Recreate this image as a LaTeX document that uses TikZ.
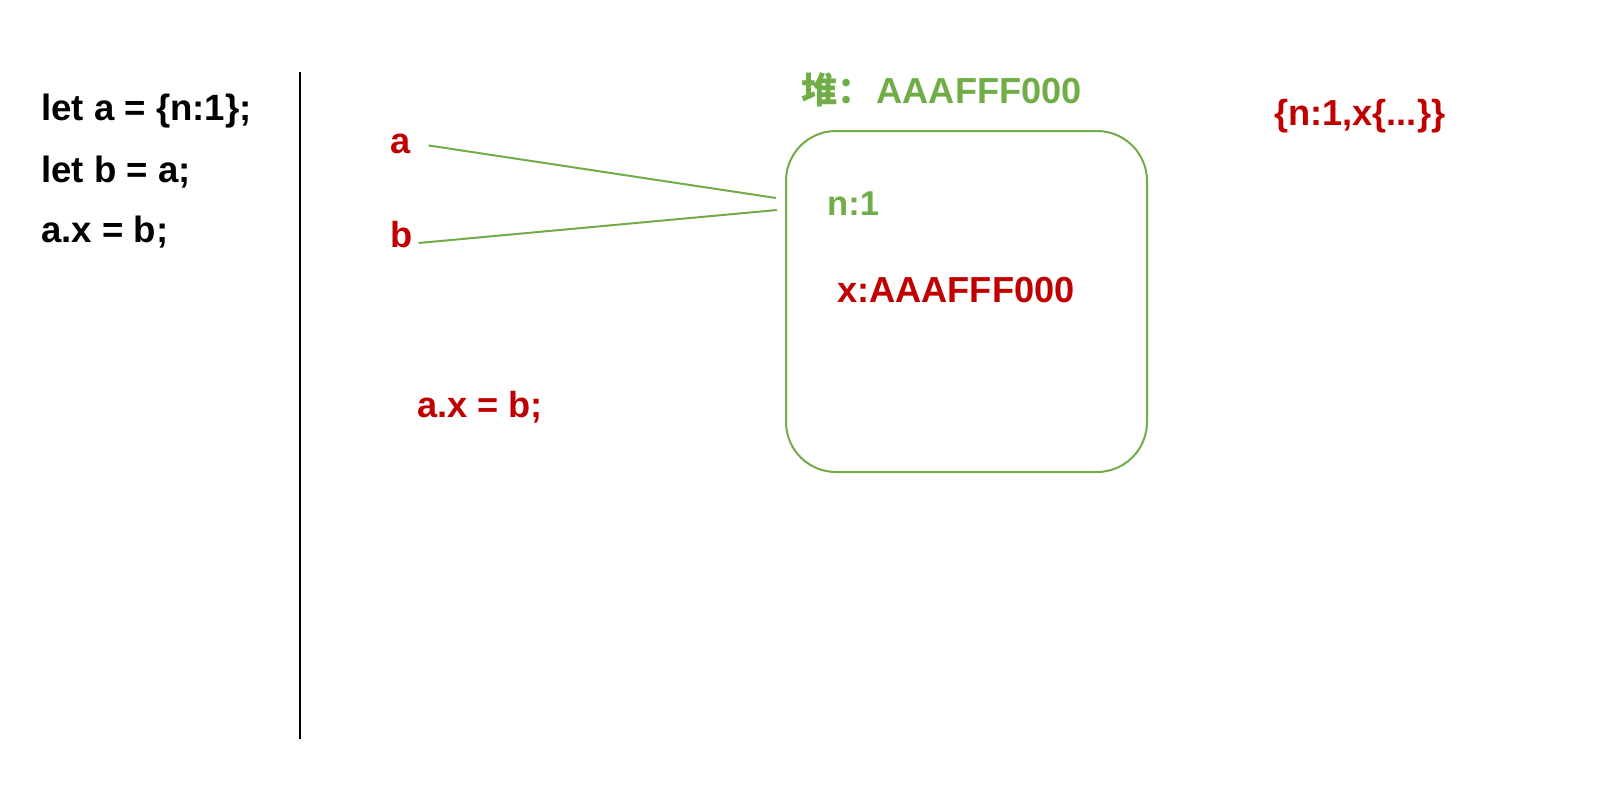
\documentclass[tikz,border=0pt]{standalone}
\usepackage{fontspec}
\setmainfont{Liberation Sans}
\newfontfamily\cjk{Noto Sans CJK SC}
\definecolor{heapgreen}{HTML}{70AD47}
\definecolor{refred}{HTML}{C00000}

\begin{document}
\begin{tikzpicture}[x=1pt,y=-1pt,
  txt/.style={anchor=base west,inner sep=0pt,font=\fontsize{36.2}{40}\selectfont\bfseries},
  link/.style={draw=heapgreen,line width=2pt}]
  \def\W{1615}
  \def\H{796}
  \useasboundingbox (0,0) rectangle (\W,\H);

  % Code on the left, and the divider
  \node[txt,font=\fontsize{36.6}{40}\selectfont\bfseries] (l1) at (41,120) {let a = \{n:1\};};
  \node[txt,font=\fontsize{36.6}{40}\selectfont\bfseries] (l2) at (41,182) {let b = a;};
  \node[txt,font=\fontsize{36.6}{40}\selectfont\bfseries] (l3) at (41,242) {a.x = b;};
  \draw[line width=2.4pt] (300,72) -- (300,739);

  % Variables on the stack
  \node[txt,text=refred] (a) at (390,153) {a};
  \node[txt,text=refred] (b) at (390,247) {b};
  \node[txt,text=refred] (step3) at (417,417) {a.x = b;};

  % The object on the heap
  \node[draw=heapgreen,line width=2pt,rounded corners=50pt,
        minimum width=361pt,minimum height=341pt] (heap) at (966.5,301.5) {};
  \node[txt,text=heapgreen] (title) at (801,103) {{\cjk\bfseries 堆：}\hspace{3pt}AAAFFF000};
  \node[txt,text=heapgreen,font=\fontsize{34.5}{40}\selectfont\bfseries] (n) at (827,215) {n:1};
  \node[txt,text=refred] (x) at (837,302) {x:AAAFFF000};
  \node[txt,text=refred] (result) at (1274,125) {\{n:1,x\{...\}\}};

  % References into the heap
  \coordinate (a in) at (776,198);
  \coordinate (b in) at (777,210);
  \draw[link] ([xshift=18pt,yshift=-2pt]a.east) -- (a in);
  \draw[link] ([xshift=6pt,yshift=4pt]b.base east) -- (b in);
\end{tikzpicture}
\end{document}
